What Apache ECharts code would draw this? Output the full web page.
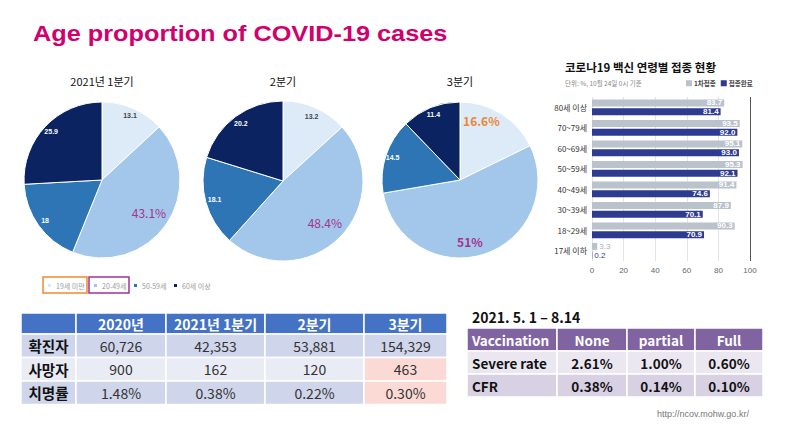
<!DOCTYPE html>
<html>
<head>
<meta charset="utf-8">
<script src="https://cdn.jsdelivr.net/npm/echarts@6/dist/echarts.min.js"></script>
<style>
html,body{margin:0;padding:0;background:#fff;}
#chart{width:788px;height:436px;}
</style>
</head>
<body>
<div id="chart"></div>
<script>
// ---------- DATA ----------
const slideTitle = 'Age proportion of COVID-19 cases';
const pieCategories = ['19세 미만', '20-49세', '50-59세', '60세 이상'];
const pieTitles = ['2021년 1분기', '2분기', '3분기'];
const q1Share = [13.1, 43.1, 18, 25.9];
const q2Share = [13.2, 48.4, 18.1, 20.2];
const q3Share = [16.6, 51, 14.5, 11.4];

const barTitle = '코로나19 백신 연령별 접종 현황';
const barSubtitle = '단위: %, 10월 24일 0시 기준';
const ageGroups = ['80세 이상', '70~79세', '60~69세', '50~59세', '40~49세', '30~39세', '18~29세', '17세 이하'];
const firstDose = [83.7, 93.5, 95.1, 95.3, 91.4, 87.9, 90.3, 3.3];
const fullDose = [81.4, 92.0, 93.0, 92.1, 74.6, 70.1, 70.9, 0.2];
const barSeriesNames = ['1차접종', '접종완료'];
const xTicks = [0, 20, 40, 60, 80, 100];

const caseHeader = ['', '2020년', '2021년 1분기', '2분기', '3분기'];
const caseRowLabels = ['확진자', '사망자', '치명률'];
const confirmedCases = ['60,726', '42,353', '53,881', '154,329'];
const deathCounts = ['900', '162', '120', '463'];
const fatalityRates = ['1.48%', '0.38%', '0.22%', '0.30%'];

const vaccPeriod = '2021. 5. 1 – 8.14';
const vaccHeader = ['Vaccination', 'None', 'partial', 'Full'];
const vaccRowLabels = ['Severe rate', 'CFR'];
const severeRates = ['2.61%', '1.00%', '0.60%'];
const vaccCfr = ['0.38%', '0.14%', '0.10%'];
const sourceUrl = 'http://ncov.mohw.go.kr/';

// ---------- STYLE / LAYOUT ----------
const FONT = '"Noto Sans CJK KR", "Noto Sans", sans-serif';
const pieColors = ['#DDEBF8', '#A3C7EB', '#2E75B6', '#0B2461'];
const pieLayout = [
  {center: [102, 180], r: 78, small: [56, 78], pct: [30, 78]},
  {center: [283, 181], r: 80, small: [56, 80], pct: [32, 80]},
  {center: [460, 180], r: 78, small: [58, 78], pct: [46, 78]}
];
const pieData = [q1Share, q2Share, q3Share];
const pctIdx = [[1], [1], [0, 1]];
const pctNudge = [{}, {}, {0: [-13, -4], 1: [-10, 0]}];
const pieLegendLeft = [46, 92, 132, 172];

const series = [];
const graphics = [];

pieData.forEach((vals, p) => {
  const L = pieLayout[p];
  series.push({
    type: 'pie', name: pieTitles[p], center: L.center, radius: [0, L.r],
    startAngle: 90, clockwise: true, silent: true, label: {show: false}, labelLine: {show: false},
    itemStyle: {borderColor: '#fff', borderWidth: 1},
    data: vals.map((v, i) => ({name: pieCategories[i], value: v, itemStyle: {color: pieColors[i]}}))
  });
});
pieData.forEach((vals, p) => {
  const L = pieLayout[p];
  series.push({
    type: 'pie', center: L.center, radius: L.small, startAngle: 90, silent: true,
    itemStyle: {color: 'rgba(0,0,0,0)'}, labelLine: {show: false},
    label: {show: true, position: 'inside', fontSize: 7, fontWeight: 'bold', fontFamily: 'Liberation Sans'},
    data: vals.map((v, i) => ({
      name: pieCategories[i] + '_s', value: v,
      label: {show: pctIdx[p].indexOf(i) < 0, formatter: String(v), color: i < 2 ? '#444' : '#fff'}
    }))
  });
  series.push({
    type: 'pie', center: L.center, radius: L.pct, startAngle: 90, silent: true,
    itemStyle: {color: 'rgba(0,0,0,0)'}, labelLine: {show: false},
    label: {show: true, position: 'inside', fontSize: 12, fontFamily: FONT, fontWeight: p === 2 ? 'bold' : 'normal'},
    labelLayout: function (params) {
      const n = pctNudge[p][params.dataIndex];
      return n ? {dx: n[0], dy: n[1]} : {};
    },
    data: vals.map((v, i) => ({
      name: pieCategories[i] + '_p', value: v,
      label: {show: pctIdx[p].indexOf(i) >= 0, formatter: v + '%', color: i === 0 ? '#EE8535' : '#A3338E'}
    }))
  });
  graphics.push({type: 'text', x: L.center[0], y: 81,
    style: {text: pieTitles[p], fontSize: 11, fontFamily: FONT, fill: '#111',
      align: 'center', verticalAlign: 'middle', textAlign: 'center', textVerticalAlign: 'middle'}});
});

const barColors = ['#BAC2CC', '#2E3B91'];
const outsideColors = ['#A9B0BA', '#2E3B91'];
[firstDose, fullDose].forEach((arr, s) => {
  series.push({
    type: 'bar', name: barSeriesNames[s], xAxisIndex: 0, yAxisIndex: 0,
    barWidth: 7, barGap: '25%', itemStyle: {color: barColors[s]},
    label: {show: true, position: 'insideRight', color: '#fff', fontSize: 8, fontWeight: 'bold', fontFamily: 'Liberation Sans', distance: 2,
      formatter: (d) => d.value.toFixed(1)},
    data: arr.map(v => v < 10 ? {value: v, label: {position: 'right', color: outsideColors[s], fontWeight: 'normal'}} : v)
  });
});

graphics.push({type: 'text', x: 33, y: 34, scaleX: 1.15,
  style: {text: slideTitle, fontSize: 22, fontWeight: 'bold', fontFamily: '"Liberation Sans", Arial, sans-serif', fill: '#D1006C',
    verticalAlign: 'middle', textVerticalAlign: 'middle'}});
graphics.push({type: 'text', x: 565, y: 67,
  style: {text: barTitle, fontSize: 11.5, fontWeight: 'bold', fontFamily: FONT, fill: '#111', verticalAlign: 'middle', textVerticalAlign: 'middle'}});
graphics.push({type: 'text', x: 565, y: 83,
  style: {text: barSubtitle, fontSize: 6.5, fontFamily: FONT, fill: '#888', verticalAlign: 'middle', textVerticalAlign: 'middle'}});
graphics.push({type: 'rect', shape: {x: 43, y: 277, width: 44, height: 16}, style: {fill: 'none', stroke: '#F08A30', lineWidth: 1.5}});
graphics.push({type: 'rect', shape: {x: 89, y: 277, width: 40, height: 16}, style: {fill: 'none', stroke: '#A3338E', lineWidth: 1.5}});

function cellText(x, y, text, opts) {
  graphics.push({type: 'text', x: x, y: y, z: 5,
    style: Object.assign({text: text, fontFamily: FONT, fontSize: 14, fill: '#222',
      align: 'center', verticalAlign: 'middle', textAlign: 'center', textVerticalAlign: 'middle'}, opts || {})});
}
function cellRect(x, y, w, h, fill) {
  graphics.push({type: 'rect', z: 1, shape: {x: x, y: y, width: w, height: h}, style: {fill: fill, stroke: '#fff', lineWidth: 1.5}});
}
const caseColW = [55, 90, 99, 99, 83];
const caseRowH = [21, 23.5, 23.5, 23.5];
const caseBody = [confirmedCases, deathCounts, fatalityRates];
const caseRowFill = ['#CFD5EA', '#E9EBF5', '#CFD5EA'];
(function () {
  let y = 313;
  for (let r = 0; r < 4; r++) {
    let x = 21;
    for (let c = 0; c < 5; c++) {
      const w = caseColW[c], h = caseRowH[r];
      let fill;
      if (r === 0) fill = '#4472C4';
      else if (c === 4 && r >= 2) fill = '#FBDAD5';
      else fill = caseRowFill[r - 1];
      cellRect(x, y, w, h, fill);
      if (r === 0) {
        if (caseHeader[c]) cellText(x + w / 2, y + h / 2, caseHeader[c], {fill: '#fff', fontWeight: 'bold'});
      } else if (c === 0) {
        cellText(x + w / 2, y + h / 2, caseRowLabels[r - 1], {fontWeight: 'bold', fontSize: 14.5, fill: '#111'});
      } else {
        cellText(x + w / 2, y + h / 2, caseBody[r - 1][c - 1], {fill: '#333'});
      }
      x += w;
    }
    y += caseRowH[r];
  }
})();
graphics.push({type: 'text', x: 472, y: 317,
  style: {text: vaccPeriod, fontSize: 14, fontWeight: 'bold', fontFamily: FONT, fill: '#111', verticalAlign: 'middle', textVerticalAlign: 'middle'}});
const vaccColW = [90, 70, 68, 68];
const vaccRowH = [23, 23, 23];
const vaccBody = [severeRates, vaccCfr];
const vaccRowFill = ['#EBE7F1', '#D8D1E3'];
(function () {
  let y = 328;
  for (let r = 0; r < 3; r++) {
    let x = 467;
    for (let c = 0; c < 4; c++) {
      const w = vaccColW[c], h = vaccRowH[r];
      cellRect(x, y, w, h, r === 0 ? '#8064A2' : vaccRowFill[r - 1]);
      const txt = r === 0 ? vaccHeader[c] : (c === 0 ? vaccRowLabels[r - 1] : vaccBody[r - 1][c - 1]);
      const col = r === 0 ? '#fff' : '#111';
      if (c === 0) {
        cellText(x + 5, y + h / 2, txt, {fill: col, fontWeight: 'bold', fontSize: 13.5, align: 'left', textAlign: 'left'});
      } else {
        cellText(x + w / 2, y + h / 2, txt, {fill: col, fontWeight: 'bold', fontSize: 13.5});
      }
      x += w;
    }
    y += vaccRowH[r];
  }
})();
graphics.push({type: 'text', x: 657, y: 414,
  style: {text: sourceUrl, fontSize: 9, fontFamily: '"Liberation Sans", sans-serif', fill: '#777', verticalAlign: 'middle', textVerticalAlign: 'middle'}});

const pieLegends = pieCategories.map((name, i) => ({
  data: [name], left: pieLegendLeft[i], top: 282, itemWidth: 5, itemHeight: 5, padding: 0, icon: 'rect',
  selectedMode: false, textStyle: {fontSize: 7, color: '#999', fontFamily: FONT, padding: [0, 0, 0, -1]}
}));

const option = {
  backgroundColor: '#fff',
  animation: false,
  textStyle: {fontFamily: FONT},
  legend: pieLegends.concat([
    {data: barSeriesNames, left: 686, top: 80, itemWidth: 6, itemHeight: 6, itemGap: 5, padding: 0, icon: 'rect',
      selectedMode: false, textStyle: {fontSize: 6.5, color: '#444', fontWeight: 'bold', fontFamily: FONT, padding: [0, 0, 0, -3]}}
  ]),
  grid: {left: 592, right: 38, top: 97, bottom: 175, containLabel: false},
  xAxis: {type: 'value', min: xTicks[0], max: xTicks[xTicks.length - 1], interval: xTicks[1] - xTicks[0],
    axisLine: {show: false}, axisTick: {show: false},
    axisLabel: {fontSize: 8, color: '#666', fontFamily: 'Liberation Sans', margin: 5},
    splitLine: {show: true, lineStyle: {color: ['#E4E4E4', '#E4E4E4', '#E4E4E4', '#E4E4E4', '#E4E4E4', '#555']}}},
  yAxis: {type: 'category', data: ageGroups, inverse: true,
    axisLine: {show: false}, axisTick: {show: false},
    axisLabel: {fontSize: 8, color: '#333', margin: 5, fontFamily: FONT}},
  series: series,
  graphic: {elements: graphics}
};
const chart = echarts.init(document.getElementById('chart'), null, {renderer: 'svg'});
chart.setOption(option);
</script>
</body>
</html>
